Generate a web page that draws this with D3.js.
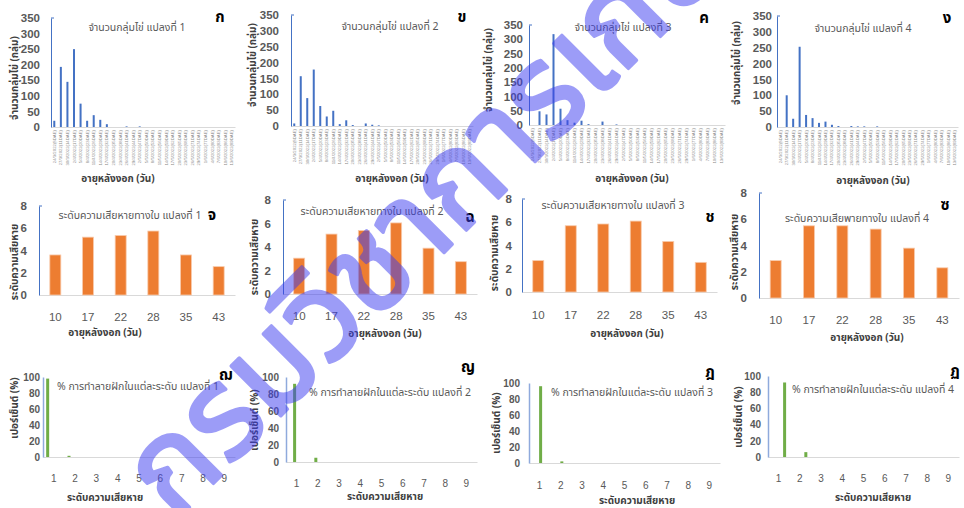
<!DOCTYPE html>
<html><head><meta charset="utf-8">
<script src="https://cdn.jsdelivr.net/npm/d3@7"></script>
<style>
html,body{margin:0;padding:0;background:#fff;}
svg{display:block;font-family:"Noto Sans Thai","Noto Sans","Liberation Sans",Arial,sans-serif;}
</style></head>
<body>
<svg id="c" width="964" height="508"></svg>
<script>
// ---------------- DATA ----------------
const eggDates = ["24/3/2022(8DAE)","27/3/2022(11DAE)","30/3/2022(14DAE)","2/4/2022(17DAE)","5/4/2022(20DAE)","8/4/2022(23DAE)","11/4/2022(26DAE)","14/4/2022(29DAE)","17/4/2022(32DAE)","20/4/2022(35DAE)","23/4/2022(38DAE)","26/4/2022(41DAE)","29/4/2022(44DAE)","2/5/2022(47DAE)","5/5/2022(50DAE)","8/5/2022(53DAE)","11/5/2022(56DAE)","14/5/2022(59DAE)","17/5/2022(62DAE)","20/5/2022(65DAE)","23/5/2022(68DAE)","26/5/2022(71DAE)","29/5/2022(74DAE)","1/6/2022(77DAE)","4/6/2022(80DAE)","7/6/2022(83DAE)","10/6/2022(86DAE)","13/6/2022(89DAE)"];
const eggPlot1 = [20,193,145,250,75,20,38,23,9,0,0,2,0,2,0,0,0,0,0,0,0,0,0,0,0,0,0,0];
const eggPlot2 = [8,157,88,178,63,30,48,6,18,3,0,8,4,2,0,0,0,0,0,0,0,0,0,0,0,0,0,0];
const eggPlot3 = [0,48,37,318,57,17,8,15,3,0,12,0,2,0,0,0,0,0,0,0,0,0,0,0,0,0,0,0];
const eggPlot4 = [0,100,26,253,38,28,13,17,7,3,0,3,2,2,0,2,0,0,0,0,0,0,0,0,0,0,0,0];
const eggTicks = [0,50,100,150,200,250,300,350];

const ageDays = ["10","17","22","28","35","43"];
const leafPlot1 = [3.6,5.2,5.35,5.75,3.6,2.55];
const leafPlot2 = [3.05,5.1,5.4,6.05,3.9,2.75];
const leafPlot3 = [2.7,5.7,5.85,6.1,4.35,2.55];
const leafPlot4 = [2.85,5.5,5.5,5.25,3.8,2.3];
const leafTicks = [0,2,4,6,8];

const damageLevels = ["1","2","3","4","5","6","7","8","9"];
const podPlot1 = [98,1.5,0,0,0,0,0,0,0];
const podPlot2 = [92,5,0,0,0,0,0,0,0];
const podPlot3 = [96,2,0,0,0,0,0,0,0];
const podPlot4 = [92,6,0,0,0,0,0,0,0];
const podTicks = [0,20,40,60,80,100];

const eggTitles = ["จำนวนกลุ่มไข่  แปลงที่ 1","จำนวนกลุ่มไข่ แปลงที่ 2","จำนวนกลุ่มไข่ แปลงที่ 3","จำนวนกลุ่มไข่ แปลงที่ 4"];
const leafTitles = ["ระดับความเสียหายทางใบ แปลงที่ 1","ระดับความเสียหายทางใบ แปลงที่ 2","ระดับความเสียหายทางใบ แปลงที่ 3","ระดับความเสียพายทางใบ แปลงที่ 4"];
const podTitles = ["% การทำลายฝักในแต่ละระดับ แปลงที่ 1","% การทำลายฝักในแต่ละระดับ แปลงที่ 2","% การทำลายฝักในแต่ละระดับ แปลงที่ 3","% การทำลายฝักในแต่ละระดับ แปลงที่ 4"];
const panelMarks = ["ก","ข","ค","ง","จ","ฉ","ช","ซ","ฌ","ญ","ฎ","ฏ"];
const eggYLabel = "จำนวนกลุ่มไข่ (กลุ่ม)";
const leafYLabel = "ระดับความเสียหาย";
const podYLabel = "เปอร์เซ็นต์ (%)";
const ageXLabel = "อายุหลังงอก (วัน)";
const levelXLabel = "ระดับความเสียหาย";
const watermarkText = "กรมวิชาการเกษตร";

// ---------------- LAYOUT ----------------
const svg = d3.select("#c");
const eggData = [eggPlot1,eggPlot2,eggPlot3,eggPlot4];
const leafData = [leafPlot1,leafPlot2,leafPlot3,leafPlot4];
const podData = [podPlot1,podPlot2,podPlot3,podPlot4];

const panels = [
 // row 1
 {kind:"egg",i:0,x0:51,x1:235,yT:18,yB:127,gap:11,title:[137,31],xl:[118,182],yl:[14,78],mark:[220,22]},
 {kind:"egg",i:1,x0:291,x1:473,yT:15,yB:126,gap:12,title:[390,30],xl:[392,182],yl:[252,65],mark:[462,22]},
 {kind:"egg",i:2,x0:529,x1:725,yT:25,yB:125,gap:6,title:[623,31],xl:[632,182],yl:[488,70],mark:[704,23]},
 {kind:"egg",i:3,x0:777,x1:958,yT:16,yB:127,gap:5,title:[863,32],xl:[873,184],yl:[736,63],mark:[947,23]},
 // row 2
 {kind:"leaf",i:0,x0:39,x1:235,yT:206,yB:295,gap:12,title:[130,219],xl:[105,336],yl:[14,262],mark:[212,220],tickY:317},
 {kind:"leaf",i:1,x0:283,x1:477,yT:200,yB:294,gap:12,title:[372,215],xl:[385,337],yl:[254,257],mark:[470,222],tickY:316},
 {kind:"leaf",i:2,x0:522,x1:717,yT:199,yB:292,gap:10,title:[613,209],xl:[627,337],yl:[494,253],mark:[710,222],tickY:315},
 {kind:"leaf",i:3,x0:759,x1:959,yT:193,yB:298,gap:12,title:[857,222],xl:[867,341],yl:[734,252],mark:[945,210],tickY:320},
 // row 3
 {kind:"pod",i:0,x0:43,x1:235,yT:377,yB:457,gap:3,off:-6,title:[138,390],xl:[105,501],yl:[14,408],mark:[226,380],tickY:478},
 {kind:"pod",i:1,x0:286,x1:477,yT:377,yB:462,gap:7,off:-2,title:[390,396],xl:[385,500],yl:[254,420],mark:[468,372],tickY:483},
 {kind:"pod",i:2,x0:529,x1:720,yT:383,yB:463,gap:9,off:1,title:[632,396],xl:[637,504],yl:[496,423],mark:[710,377],tickY:485},
 {kind:"pod",i:3,x0:768,x1:959,yT:376,yB:457,gap:7,off:6,title:[873,393],xl:[873,501],yl:[738,417],mark:[955,376],tickY:478}
];

const TXT = "#595959";

panels.forEach((p, idx) => {
  const g = svg.append("g");
  let cats, vals, ticks, color, barW, yMax, title, ylab, xlab;
  if (p.kind === "egg") { cats = eggDates; vals = eggData[p.i]; ticks = eggTicks; yMax = 350; color = "#4472C4"; barW = 2; title = eggTitles[p.i]; ylab = eggYLabel; xlab = ageXLabel; }
  if (p.kind === "leaf") { cats = ageDays; vals = leafData[p.i]; ticks = leafTicks; yMax = 8; color = "#ED7D31"; barW = 11; title = leafTitles[p.i]; ylab = leafYLabel; xlab = ageXLabel; }
  if (p.kind === "pod") { cats = damageLevels; vals = podData[p.i]; ticks = podTicks; yMax = 100; color = "#70AD47"; barW = 3; title = podTitles[p.i]; ylab = podYLabel; xlab = levelXLabel; }

  const x = d3.scaleBand().domain(cats).range([p.x0, p.x1]);
  const y = d3.scaleLinear().domain([0, yMax]).range([p.yB, p.yT]);

  // x axis
  const xa = g.append("g").attr("transform", `translate(0,${p.yB})`)
    .call(d3.axisBottom(x).tickSize(0).tickSizeOuter(0));
  xa.select(".domain").attr("stroke", "#D9D9D9").attr("stroke-width", 1);
  if (p.kind === "egg") {
    xa.selectAll("text")
      .attr("transform", "rotate(-90)")
      .attr("text-anchor", "end")
      .attr("x", -3).attr("y", 0).attr("dy", "0.35em")
      .attr("font-size", 4.3).attr("fill", "#8c8c8c").attr("font-family", "Liberation Sans, Arial, sans-serif");
  } else {
    xa.selectAll("text")
      .attr("y", p.tickY - p.yB).attr("dy", "0.35em")
      .attr("font-size", p.kind === "leaf" ? 11.5 : 10)
      .attr("fill", TXT).attr("font-family", "Liberation Sans, Arial, sans-serif");
  }

  // bars
  const off = p.off || 0;
  g.append("g").selectAll("rect").data(vals).join("rect")
    .attr("x", (d, k) => x(cats[k]) + x.bandwidth() / 2 - barW / 2 + off)
    .attr("y", d => y(d))
    .attr("width", barW)
    .attr("height", d => p.yB - y(d))
    .attr("fill", color)
    .attr("stroke", p.kind === "leaf" ? "#F8CBAD" : "none")
    .attr("stroke-width", p.kind === "leaf" ? 0.8 : 0);

  // y axis
  const ya = g.append("g").attr("transform", `translate(${p.x0},0)`)
    .call(d3.axisLeft(y).tickValues(ticks).tickSize(0).tickSizeOuter(0).tickPadding(p.gap));
  ya.select(".domain").attr("stroke", p.kind === "pod" ? "#8FAADC" : "#4472C4").attr("stroke-width", p.kind === "pod" ? 1.5 : 1);
  ya.selectAll("text")
    .attr("font-size", p.kind === "pod" ? 10 : 11.5).attr("font-weight", "bold")
    .attr("fill", TXT).attr("font-family", "Liberation Sans, Arial, sans-serif");
  if (p.kind !== "pod") {
    g.append("line").attr("x1", p.x0).attr("x2", p.x0 + 3).attr("y1", p.yT).attr("y2", p.yT)
      .attr("stroke", "#4472C4").attr("stroke-width", 1);
  }

  // chart title
  g.append("text").attr("x", p.title[0]).attr("y", p.title[1]).attr("text-anchor", "middle")
    .attr("font-size", 10.5).attr("fill", TXT).text(title);
  // x title
  g.append("text").attr("x", p.xl[0]).attr("y", p.xl[1]).attr("text-anchor", "middle")
    .attr("font-size", 10).attr("font-weight", "bold").attr("fill", "#404040").text(xlab);
  // y title
  g.append("text").attr("transform", `translate(${p.yl[0] + 4},${p.yl[1]}) rotate(-90)`)
    .attr("text-anchor", "middle")
    .attr("font-size", 10).attr("font-weight", "bold").attr("fill", "#404040").text(ylab);
  // panel mark
  g.append("text").attr("x", p.mark[0]).attr("y", p.mark[1]).attr("text-anchor", "middle")
    .attr("font-size", 15).attr("font-weight", "bold").attr("fill", "#000").text(panelMarks[idx]);
});

// watermark
svg.append("text")
  .attr("transform", "translate(395,245) rotate(-45)")
  .attr("x", 0).attr("y", 0)
  .attr("text-anchor", "start")
  .attr("dx", -352).attr("dy", 40)
  .attr("font-size", 128).attr("font-weight", "normal")
  .attr("fill", "#3c3cf0").attr("stroke", "#3c3cf0").attr("stroke-width", 3.5)
  .attr("stroke-linejoin", "round")
  .attr("opacity", 0.5)
  .text(watermarkText);
</script>
</body></html>
